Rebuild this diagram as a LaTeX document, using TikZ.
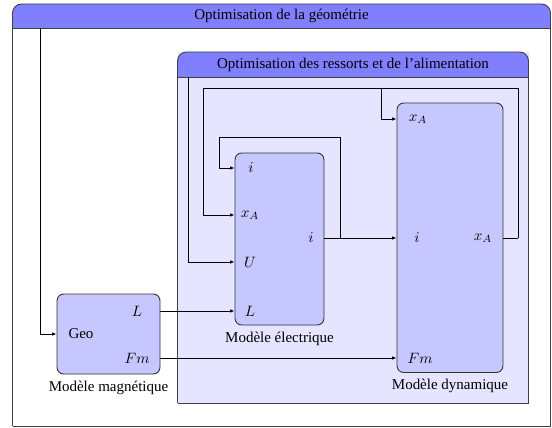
\documentclass[tikz,border=0pt]{standalone}
\usepackage{fontspec}
\setmainfont{Liberation Serif}
\usetikzlibrary{arrows.meta,positioning,calc}
\newcommand{\px}{0.667pt}
\tikzset{
  frame/.style={draw=black!75, line width=0.6pt},
  header/.style={fill=blue!50},
  model/.style={draw=black!80, fill=blue!22, rounded corners=4.5pt, inner sep=0pt, line width=0.6pt},
  port/.style={inner sep=0pt},
  caption/.style={inner sep=0pt},
  flow/.style={-{Latex[length=3pt,width=2.4pt]}, line width=0.6pt},
  wire/.style={line width=0.6pt}
}

\begin{document}
\begin{tikzpicture}[x=\px, y=-\px]
  \useasboundingbox (0,0) rectangle (552,428);

  % outer loop: geometry
  \fill[white] (12.5,4) rectangle (550.5,426);
  \fill[header, rounded corners=6pt] (12.5,4) rectangle (550.5,28);
  \fill[header] (12.5,16) rectangle (550.5,28);
  \draw[frame, rounded corners=6pt] (12.5,426) -- (12.5,4) -- (550.5,4) -- (550.5,426);
  \draw[frame] (12.5,426) -- (550.5,426) (12.5,28) -- (550.5,28);
  \node (hdrgeo) at (281.5,16) {Optimisation de la géométrie};

  % inner loop: springs and supply
  \fill[blue!10] (177.5,52) rectangle (528.5,403);
  \fill[header, rounded corners=6pt] (177.5,52) rectangle (528.5,77);
  \fill[header] (177.5,64) rectangle (528.5,77);
  \draw[frame, rounded corners=6pt] (177.5,403) -- (177.5,52) -- (528.5,52) -- (528.5,403);
  \draw[frame] (177.5,403) -- (528.5,403) (177.5,77) -- (528.5,77);
  \node (hdrres) at (353,64.5) {Optimisation des ressorts et de l'alimentation};

  % models
  \node[model, minimum width=103*\px, minimum height=80*\px] (geo) at (108.5,334) {};
  \node[model, minimum width=89*\px, minimum height=172*\px] (elec) at (279.5,239) {};
  \node[model, minimum width=106*\px, minimum height=269.5*\px] (dyn) at (450,237.75) {};

  \node[caption, below=6*\px of geo] (capgeo) {Modèle magnétique};
  \node[caption, below=6*\px of elec] (capelec) {Modèle électrique};
  \node[caption, below=6*\px of dyn] (capdyn) {Modèle dynamique};

  % ports
  \node[port] (gname) at (81,334) {Geo};
  \node[port] (gL) at (137,311) {$L$};
  \node[port] (gFm) at (137,358) {$Fm$};

  \node[port] (ei) at (251,168) {$i$};
  \node[port] (ex) at (250,215) {$x_A$};
  \node[port] (eU) at (250,262) {$U$};
  \node[port] (eL) at (250,311) {$L$};
  \node[port] (eo) at (311,238) {$i$};

  \node[port] (dx) at (418,119) {$x_A$};
  \node[port] (di) at (417,238) {$i$};
  \node[port] (dxo) at (483,238) {$x_A$};
  \node[port] (dFm) at (420,358) {$Fm$};

  % taps and bends
  \coordinate (gtap) at (40,28);
  \coordinate (rtap) at (188,77);
  \coordinate (isplit) at (340,238);
  \coordinate (iloop) at (219,137);
  \coordinate (xturn) at (518,238);
  \coordinate (xloop) at (203,88);
  \coordinate (xsplit) at (381,88);

  % connections
  \draw[flow] (gtap) |- (geo.west);
  \draw[flow] (rtap) |- (elec.west |- eU);
  \draw[flow] (geo.east |- gL) -- (elec.west |- eL);
  \draw[flow] (geo.east |- gFm) -- (dyn.west |- dFm);
  \draw[flow] (elec.east |- eo) -- (dyn.west |- di);
  \draw[flow] (isplit) |- (iloop) |- (elec.west |- ei);
  \draw[wire] (dyn.east |- dxo) -- (xturn);
  \draw[flow] (xturn) |- (xloop) |- (elec.west |- ex);
  \draw[flow] (xsplit) |- (dyn.west |- dx);
\end{tikzpicture}
\end{document}
